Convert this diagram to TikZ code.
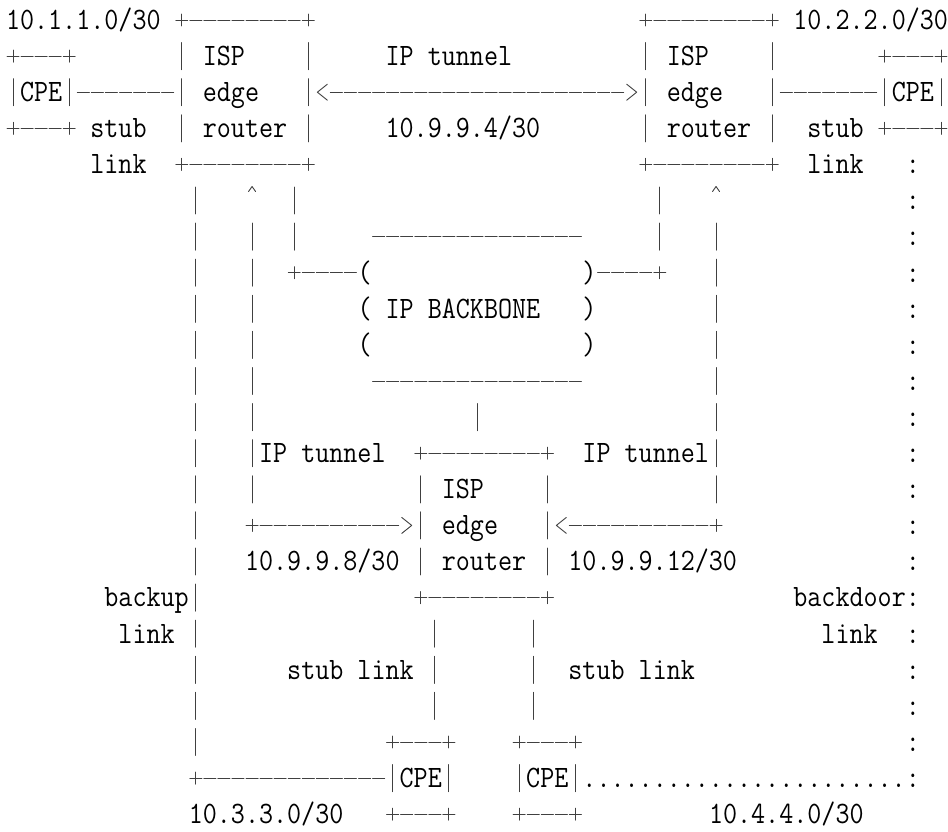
\documentclass[tikz,border=0pt]{standalone}
\usepackage{graphicx}
\newsavebox\probebox
\def\CW{14.06}
\def\XO{6}
\def\RO{20}
\def\RP{36.1}
\AtBeginDocument{%
  \sbox\probebox{\ttfamily\fontsize{20pt}{24pt}\selectfont 0}%
  \pgfmathsetmacro\tmpfsz{1.14*20*14.113/\wd\probebox}%
  \xdef\FSZ{\tmpfsz}}
\tikzset{
  art/.style={draw=black!75, line width=0.9bp, line cap=round, line join=round},
  txt/.style={anchor=base west, inner sep=0pt, outer sep=0pt, text=black,
    font=\ttfamily\fontsize{\FSZ pt}{\FSZ pt}\selectfont}
}
% text fragment: name, column, row, text
\newcommand\Tx[4]{\node[txt] (#1) at ({\XO+#2*\CW},{\RO+(#3-1)*\RP+9.3}) {\scalebox{0.877}[1]{#4}};}
% vertical bar
\newcommand\Vb[2]{\draw[art] ({\XO+(#1+0.5)*\CW},{\RO+(#2-1)*\RP-13.5}) -- ++(0,27);}
% run of dashes from column #1 to #2 in row #3
\newcommand\Hd[3]{\foreach \ii in {#1,...,#2}{\draw[art] ({\XO+\ii*\CW+1},{\RO+(#3-1)*\RP}) -- ++({\CW-2},0);}}
% plus corner
\newcommand\Pl[2]{\draw[art] ({\XO+(#1+0.5)*\CW-6},{\RO+(#2-1)*\RP}) -- ++(12,0)
  ({\XO+(#1+0.5)*\CW},{\RO+(#2-1)*\RP-6}) -- ++(0,12);}
% arrowheads
\newcommand\Lt[2]{\draw[art] ({\XO+(#1+0.5)*\CW+5},{\RO+(#2-1)*\RP-8}) -- ++(-10,8) -- ++(10,8);}
\newcommand\Gt[2]{\draw[art] ({\XO+(#1+0.5)*\CW-5},{\RO+(#2-1)*\RP-8}) -- ++(10,8) -- ++(-10,8);}
\newcommand\Up[2]{\draw[art] ({\XO+(#1+0.5)*\CW-3.5},{\RO+(#2-1)*\RP-9}) -- ++(3.5,-5) -- ++(3.5,5);}
\begin{document}
\begin{tikzpicture}[x=1bp,y=-1bp]
\fill[white] (0,0) rectangle (948,832);
\useasboundingbox (0,0) rectangle (948,832);

% ---------- row 1
\Tx{net1}{0}{1}{10.1.1.0/30}
\Pl{12}{1}\Hd{13}{20}{1}\Pl{21}{1}
\Pl{45}{1}\Hd{46}{53}{1}\Pl{54}{1}
\Tx{net2}{56}{1}{10.2.2.0/30}
% ---------- row 2
\Pl{0}{2}\Hd{1}{3}{2}\Pl{4}{2}
\Vb{12}{2}\Tx{ispA}{14}{2}{ISP}\Vb{21}{2}
\Tx{tunA}{27}{2}{IP tunnel}
\Vb{45}{2}\Tx{ispB}{47}{2}{ISP}\Vb{54}{2}
\Pl{62}{2}\Hd{63}{65}{2}\Pl{66}{2}
% ---------- row 3
\Vb{0}{3}\Tx{cpeA}{1}{3}{CPE}\Vb{4}{3}\Hd{5}{11}{3}
\Vb{12}{3}\Tx{edgeA}{14}{3}{edge}\Vb{21}{3}
\Lt{22}{3}\Hd{23}{43}{3}\Gt{44}{3}
\Vb{45}{3}\Tx{edgeB}{47}{3}{edge}\Vb{54}{3}
\Hd{55}{61}{3}\Vb{62}{3}\Tx{cpeB}{63}{3}{CPE}\Vb{66}{3}
% ---------- row 4
\Pl{0}{4}\Hd{1}{3}{4}\Pl{4}{4}\Tx{stubA}{6}{4}{stub}
\Vb{12}{4}\Tx{routA}{14}{4}{router}\Vb{21}{4}
\Tx{tunAnet}{27}{4}{10.9.9.4/30}
\Vb{45}{4}\Tx{routB}{47}{4}{router}\Vb{54}{4}
\Tx{stubB}{57}{4}{stub}\Pl{62}{4}\Hd{63}{65}{4}\Pl{66}{4}
% ---------- row 5
\Tx{linkA}{6}{5}{link}
\Pl{12}{5}\Hd{13}{20}{5}\Pl{21}{5}
\Pl{45}{5}\Hd{46}{53}{5}\Pl{54}{5}
\Tx{linkB}{57}{5}{link}
% ---------- colons of the backdoor link
\foreach \r in {5,...,16,18,19,20,21}{\Tx{colon\r}{64}{\r}{:}}
% ---------- vertical lines
\foreach \r in {6,...,21}{\Vb{13}{\r}}
\Up{17}{6}\foreach \r in {7,...,14}{\Vb{17}{\r}}
\Vb{20}{6}\Vb{20}{7}
\Vb{46}{6}\Vb{46}{7}
\Up{50}{6}\foreach \r in {7,...,14}{\Vb{50}{\r}}
% ---------- backbone
\Hd{26}{40}{7}
\Pl{20}{8}\Hd{21}{24}{8}\Tx{lpA}{25}{8}{(}\Tx{rpA}{41}{8}{)}\Hd{42}{45}{8}\Pl{46}{8}
\Tx{lpB}{25}{9}{(}\Tx{bb}{27}{9}{IP BACKBONE}\Tx{rpB}{41}{9}{)}
\Tx{lpC}{25}{10}{(}\Tx{rpC}{41}{10}{)}
\Hd{26}{40}{11}
\Vb{33}{12}
% ---------- middle router
\Tx{tunB}{18}{13}{IP tunnel}
\Pl{29}{13}\Hd{30}{37}{13}\Pl{38}{13}
\Tx{tunC}{41}{13}{IP tunnel}
\Vb{29}{14}\Tx{ispC}{31}{14}{ISP}\Vb{38}{14}
\Pl{17}{15}\Hd{18}{27}{15}\Gt{28}{15}
\Vb{29}{15}\Tx{edgeC}{31}{15}{edge}\Vb{38}{15}
\Lt{39}{15}\Hd{40}{49}{15}\Pl{50}{15}
\Tx{tunBnet}{17}{16}{10.9.9.8/30}
\Vb{29}{16}\Tx{routC}{31}{16}{router}\Vb{38}{16}
\Tx{tunCnet}{40}{16}{10.9.9.12/30}
% ---------- row 17-18
\Tx{backup}{7}{17}{backup}
\Pl{29}{17}\Hd{30}{37}{17}\Pl{38}{17}
\Tx{backdoor}{56}{17}{backdoor:}
\Tx{linkC}{8}{18}{link}
\Tx{linkD}{58}{18}{link}
% ---------- stub links below middle router
\foreach \r in {18,19,20}{\Vb{30}{\r}\Vb{37}{\r}}
\Tx{stubC}{20}{19}{stub link}
\Tx{stubD}{40}{19}{stub link}
% ---------- bottom CPEs
\Pl{27}{21}\Hd{28}{30}{21}\Pl{31}{21}
\Pl{36}{21}\Hd{37}{39}{21}\Pl{40}{21}
\Pl{13}{22}\Hd{14}{26}{22}
\Vb{27}{22}\Tx{cpeC}{28}{22}{CPE}\Vb{31}{22}
\Vb{36}{22}\Tx{cpeD}{37}{22}{CPE}\Vb{40}{22}
\Tx{dots}{41}{22}{.......................:}
\Tx{net3}{13}{23}{10.3.3.0/30}
\Pl{27}{23}\Hd{28}{30}{23}\Pl{31}{23}
\Pl{36}{23}\Hd{37}{39}{23}\Pl{40}{23}
\Tx{net4}{50}{23}{10.4.4.0/30}
\end{tikzpicture}
\end{document}
